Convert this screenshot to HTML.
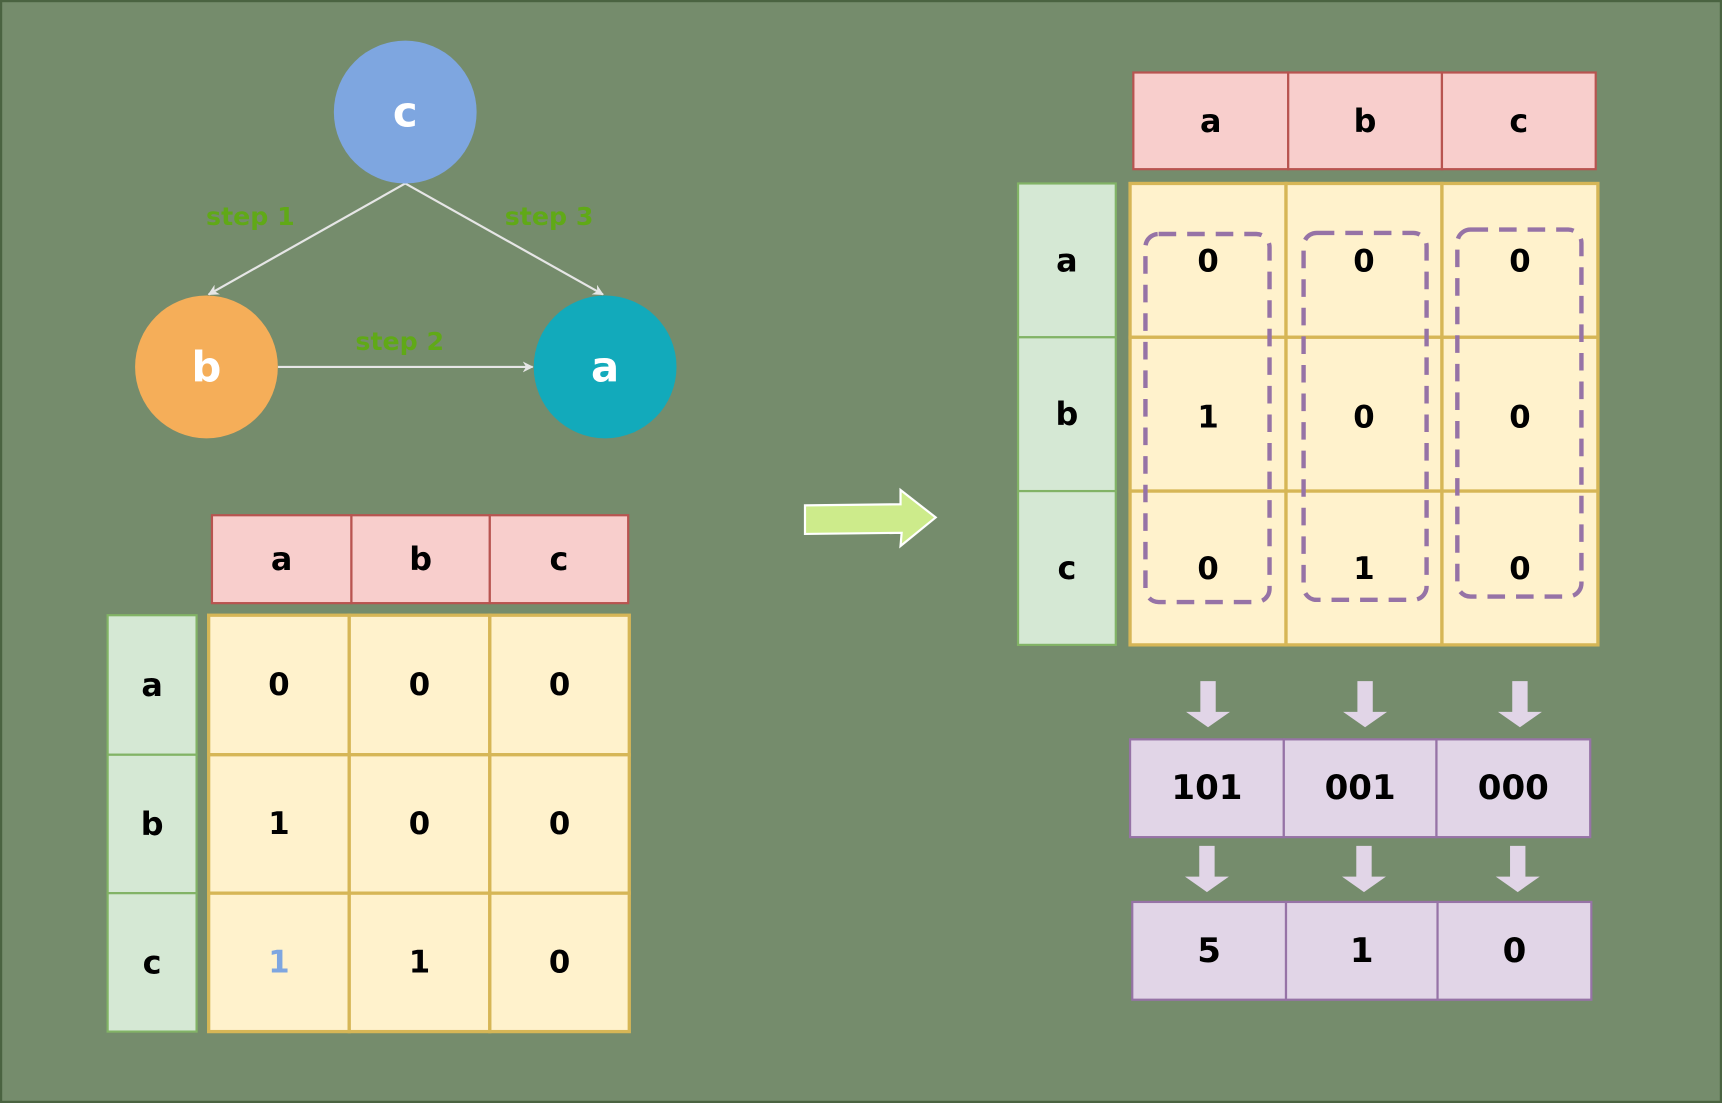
<!DOCTYPE html>
<html><head><meta charset="utf-8"><style>
html,body{margin:0;padding:0;background:#758c6c;}
svg{display:block;}
text{font-family:"DejaVu Sans","Liberation Sans",sans-serif;font-weight:bold;text-anchor:middle;dominant-baseline:central;}
</style></head><body>
<svg id="s" width="1722" height="1103" viewBox="0 0 1568 1004" preserveAspectRatio="none">
<rect x="1" y="1" width="1566" height="1002" fill="#758c6c" stroke="#4a6341" stroke-width="2"/>
<defs><marker id="ah" markerWidth="10" markerHeight="10" refX="9" refY="5" orient="auto" markerUnits="userSpaceOnUse"><path d="M0,0 L10,5 L0,10 L3,5 Z" fill="#e6e6e6"/></marker></defs>
<g>
<line x1="369" y1="167" x2="190" y2="268" stroke="#e6e6e6" stroke-width="2" marker-end="url(#ah)"/>
<line x1="369" y1="167" x2="549" y2="268" stroke="#e6e6e6" stroke-width="2" marker-end="url(#ah)"/>
<line x1="253" y1="334" x2="485" y2="334" stroke="#e6e6e6" stroke-width="2" marker-end="url(#ah)"/>
<circle cx="369" cy="102" r="65" fill="#7ea6e0"/>
<circle cx="188" cy="334" r="65" fill="#f5ae59"/>
<circle cx="551" cy="334" r="65" fill="#12aabb"/>
<text x="369" y="102" font-size="38" fill="#fff">c</text>
<text x="188" y="334" font-size="38" fill="#fff">b</text>
<text x="551" y="334" font-size="38" fill="#fff">a</text>
<text x="228" y="197" font-size="23" fill="#60a917">step 1</text>
<text x="364" y="311" font-size="23" fill="#60a917">step 2</text>
<text x="500" y="197" font-size="23" fill="#60a917">step 3</text>
</g>
<polygon points="733,460 820,459 820,446 852,471 820,497 821,485 733,486" fill="#cdeb8b" stroke="#fff" stroke-width="2"/>
<g id="dyn"></g>
</svg>
<script>
const labels = ['a','b','c'];
const leftMatrix = [[0,0,0],[1,0,0],[1,1,0]];
const rightMatrix = [[0,0,0],[1,0,0],[0,1,0]];
const binaryCodes = ['101','001','000'];
const decimalValues = ['5','1','0'];
const NS='http://www.w3.org/2000/svg';
const g=document.getElementById('dyn');
function mk(tag,attrs,txt){const e=document.createElementNS(NS,tag);for(const k in attrs)e.setAttribute(k,attrs[k]);if(txt!==undefined)e.textContent=txt;g.appendChild(e);return e;}
function cell(x,y,w,h,fill,stroke,sw,txt,fs,color,name){
  const r=mk('rect',{x:x,y:y,width:w,height:h,fill:fill,stroke:stroke,'stroke-width':sw});
  
  
  if(txt!==undefined){const t=mk('text',{x:x+w/2,y:y+h/2,'font-size':fs,fill:color},txt);
  
  }
}
const LX=[190,318,446,573], LY=[560,687,813,939];
const LH=[193,320,446,572];
for(let i=0;i<3;i++){cell(LH[i],469,LH[i+1]-LH[i],80,'#f8cecc','#b85450',2,labels[i],29,'#000','left-header');}
for(let i=0;i<3;i++){cell(98,LY[i],81,LY[i+1]-LY[i],'#d5e8d4','#82b366',2,labels[i],29,'#000','left-row-label');}
for(let r=0;r<3;r++)for(let c=0;c<3;c++){
  const col=(r===2&&c===0)?'#7ea6e0':'#000';
  cell(LX[c],LY[r],LX[c+1]-LX[c],LY[r+1]-LY[r],'#fff2cc','#d6b656',3,String(leftMatrix[r][c]),28,col,'left-matrix');
}
const RH=[1032,1173,1313,1453];
for(let i=0;i<3;i++){cell(RH[i],66,RH[i+1]-RH[i],88,'#f8cecc','#b85450',2,labels[i],29,'#000','right-header');}
const RY=[167,307,447,587], RX=[1029,1171,1313,1455];
for(let i=0;i<3;i++){cell(927,RY[i],89,RY[i+1]-RY[i],'#d5e8d4','#82b366',2,labels[i],29,'#000','right-row-label');}
for(let r=0;r<3;r++)for(let c=0;c<3;c++){
  cell(RX[c],RY[r],RX[c+1]-RX[c],RY[r+1]-RY[r],'#fff2cc','#d6b656',3,undefined,0,'#000','right-matrix');
  const t=mk('text',{x:(RX[c]+RX[c+1])/2,y:[238,380,518][r],'font-size':28,fill:'#000'},String(rightMatrix[r][c]));
  
  
}
const dash=[[1043,213,113,335],[1187,212,112,334],[1327,209,113,334]];
dash.forEach(d=>{const e=mk('rect',{x:d[0],y:d[1],width:d[2],height:d[3],rx:12,fill:'none',stroke:'#9673a6','stroke-width':4,'stroke-dasharray':'16,10'});
  
  });
function down(cx,y1,y2){const hy=y2-14;
  const e=mk('polygon',{points:`${cx-7},${y1} ${cx+7},${y1} ${cx+7},${hy} ${cx+20},${hy} ${cx},${y2} ${cx-20},${hy} ${cx-7},${hy}`,fill:'#e1d5e7'});
  
  }
[1100,1243,1384].forEach(x=>down(x,620,662));
[1099,1242,1382].forEach(x=>down(x,770,812));
const BX=[1029,1169,1308,1448];
for(let i=0;i<3;i++)cell(BX[i],673,BX[i+1]-BX[i],89,'#e1d5e7','#9673a6',2,binaryCodes[i],31,'#000','binary-code');
const DX=[1031,1171,1309,1449];
for(let i=0;i<3;i++)cell(DX[i],821,DX[i+1]-DX[i],89,'#e1d5e7','#9673a6',2,decimalValues[i],31,'#000','decimal-value');
</script>
</body></html>
